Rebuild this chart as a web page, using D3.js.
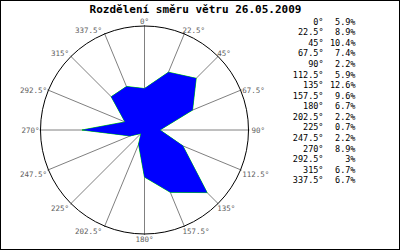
<!DOCTYPE html>
<html><head><meta charset="utf-8">
<script src="https://cdn.jsdelivr.net/npm/d3@7"></script>
<style>body{margin:0;background:#fff}svg{display:block}</style>
</head><body>
<svg id="c" width="400" height="250"></svg>
<script>
const title = "Rozdělení směru větru 26.05.2009";
const directions = [0, 22.5, 45, 67.5, 90, 112.5, 135, 157.5, 180, 202.5, 225, 247.5, 270, 292.5, 315, 337.5];
const directionLabels = ["0°","22.5°","45°","67.5°","90°","112.5°","135°","157.5°","180°","202.5°","225°","247.5°","270°","292.5°","315°","337.5°"];
const shares = [5.9, 8.9, 10.4, 7.4, 2.2, 5.9, 12.6, 9.6, 6.7, 2.2, 0.7, 2.2, 8.9, 3, 6.7, 6.7];
const shareLabels = ["5.9%","8.9%","10.4%","7.4%","2.2%","5.9%","12.6%","9.6%","6.7%","2.2%","0.7%","2.2%","8.9%","3%","6.7%","6.7%"];

const svg = d3.select("#c");
const cx = 144.5, cy = 130, R = 104;
const mono = "'DejaVu Sans Mono', 'Liberation Mono', monospace";

svg.append("rect").attr("x",0.5).attr("y",0.5).attr("width",399).attr("height",249)
  .attr("fill","#fff").attr("stroke","#000").attr("stroke-width",1);

svg.append("text").attr("x",195.5).attr("y",13).attr("text-anchor","middle")
  .attr("font-family",mono).attr("font-weight","bold").attr("font-size",11)
  .attr("fill","#000").text(title);

const r = d3.scaleLinear().domain([0, 14.8]).range([0, R]);
const ang = d3.scaleLinear().domain([0, 360]).range([0, 2*Math.PI]);
const g = svg.append("g").attr("transform",`translate(${cx},${cy})`);

// spokes
g.selectAll("line.spoke").data(directions).join("line")
  .attr("x1",0).attr("y1",0)
  .attr("x2",d=>Math.sin(ang(d))*(R+1)).attr("y2",d=>-Math.cos(ang(d))*(R+1))
  .attr("stroke","#808080").attr("stroke-width",1);

g.append("circle").attr("r",R).attr("fill","none").attr("stroke","#000").attr("stroke-width",1);

// polygon
const radial = d3.lineRadial().angle((d,i)=>ang(directions[i])).radius(d=>r(d)).curve(d3.curveLinearClosed);
g.append("path").attr("d",radial(shares)).attr("fill","#0000ff").attr("stroke","#00e000").attr("stroke-width",1);
g.append("path").attr("d",radial(shares)).attr("fill","#0000ff").attr("stroke","none");

// axis labels
g.selectAll("text.lab").data(directions).join("text")
  .attr("font-family",mono).attr("font-size",7.5).attr("fill","#606060")
  .attr("text-anchor",d=>{const s=Math.sin(ang(d)); return s>0.01?"start":(s<-0.01?"end":"middle");})
  .attr("x",d=>{const s=Math.sin(ang(d)); const px=s*R;
     if (s>0.01) return px - 2 + 5*Math.pow(s,4);
     if (s<-0.01) return px - 3 + 2*s*s;
     return px;})
  .attr("y",d=>{const c=Math.cos(ang(d)); const py=-c*R;
     if (c>0.5) return py - 4.3*c;
     if (c<-0.01) return py + (Math.abs(c)>0.5?5.3:4.2);
     return py;})
  .attr("dy","0.35em")
  .text((d,i)=>directionLabels[i]);

// legend
const rowY = d3.scaleLinear().domain([0,1]).range([21.7, 32.27]);
const leg = svg.append("g").attr("font-family",mono).attr("font-size",8.5).attr("fill","#000");
leg.selectAll("text.a").data(directionLabels).join("text")
  .attr("x",323.5).attr("y",(d,i)=>rowY(i)).attr("dy","0.35em").attr("text-anchor","end").text(d=>d);
leg.selectAll("text.b").data(shareLabels).join("text")
  .attr("x",355.5).attr("y",(d,i)=>rowY(i)).attr("dy","0.35em").attr("text-anchor","end").text(d=>d);
</script>
</body></html>
